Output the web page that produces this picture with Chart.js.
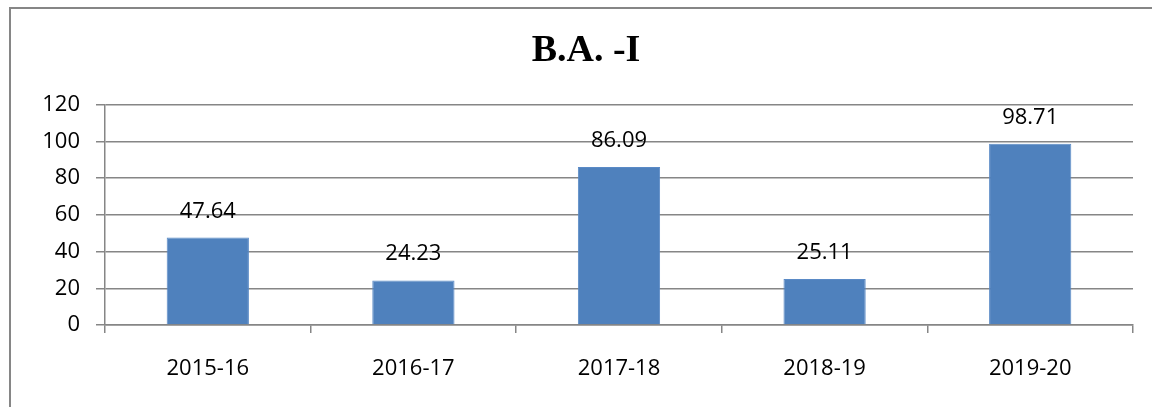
<!DOCTYPE html>
<html>
<head>
<meta charset="utf-8">
<script src="https://cdn.jsdelivr.net/npm/chart.js@4.4.0/dist/chart.umd.min.js"></script>
<style>
    html, body { margin: 0; padding: 0; background: #ffffff; }
    #wrap { position: relative; width: 1152px; height: 407px; }
</style>
</head>
<body>
<div id="wrap"><canvas id="myBarChart" width="1152" height="407"></canvas></div>
<script>
    // chart data
    const chartTitle = "B.A. -I";
    const years = ["2015-16", "2016-17", "2017-18", "2018-19", "2019-20"];
    const values = [47.64, 24.23, 86.09, 25.11, 98.71];
    const yTicks = [0, 20, 40, 60, 80, 100, 120];

    const gridColor = "#868686";
    const tickFont = { family: "'Open Sans', 'DejaVu Sans', sans-serif", size: 22 };

    // outer frame of the chart (runs off the picture at right and bottom)
    const framePlugin = {
        id: "frame",
        beforeDraw(chart) {
            const ctx = chart.ctx;
            ctx.save();
            ctx.strokeStyle = gridColor;
            ctx.lineWidth = 2;
            ctx.strokeRect(10, 8, 1300, 600);
            ctx.restore();
        },
    };

    // value labels over each bar
    const valueLabels = {
        id: "valueLabels",
        afterDatasetsDraw(chart) {
            const ctx = chart.ctx;
            const meta = chart.getDatasetMeta(0);
            ctx.save();
            ctx.font = tickFont.size + "px " + tickFont.family;
            ctx.fillStyle = "#000000";
            ctx.textAlign = "center";
            ctx.textBaseline = "alphabetic";
            meta.data.forEach((bar, i) => {
                ctx.fillText(values[i].toFixed(2), bar.x, bar.y - 20);
            });
            ctx.restore();
        },
    };

    const ctx = document.getElementById("myBarChart");

    new Chart(ctx, {
        type: "bar",
        data: {
            labels: years,
            datasets: [
                {
                    label: chartTitle,
                    data: values,
                    backgroundColor: "#4F81BD",
                    borderColor: "#5A8AC6",
                    borderWidth: 1,
                    barPercentage: 0.4,
                    categoryPercentage: 1.0,
                },
            ],
        },
        options: {
            responsive: false,
            animation: false,
            layout: {
                padding: { left: 39, right: 19, top: 0, bottom: 0 },
            },
            scales: {
                y: {
                    min: 0,
                    max: 120,
                    afterBuildTicks(scale) {
                        scale.ticks = yTicks.map((v) => ({ value: v }));
                    },
                    afterFit(scale) {
                        scale.width = 66;
                    },
                    border: { display: true, color: gridColor, width: 1.5 },
                    grid: {
                        color: gridColor,
                        lineWidth: 1.5,
                        tickLength: 9,
                    },
                    ticks: {
                        color: "#000000",
                        font: tickFont,
                        padding: 16,
                    },
                },
                x: {
                    afterFit(scale) {
                        scale.height = 82;
                    },
                    border: { display: true, color: gridColor, width: 1.5 },
                    grid: {
                        offset: true,
                        drawOnChartArea: false,
                        color: gridColor,
                        lineWidth: 1.5,
                        tickLength: 8,
                    },
                    ticks: {
                        color: "#000000",
                        font: tickFont,
                        padding: 23,
                        maxRotation: 0,
                    },
                },
            },
            plugins: {
                legend: { display: false },
                tooltip: { enabled: false },
                title: {
                    display: true,
                    text: chartTitle,
                    color: "#000000",
                    font: { family: "'Liberation Serif', 'Times New Roman', serif", size: 38, weight: "bold", lineHeight: 1.2 },
                    padding: { top: 28, bottom: 31 },
                },
            },
        },
        plugins: [framePlugin, valueLabels],
    });
</script>
</body>
</html>
